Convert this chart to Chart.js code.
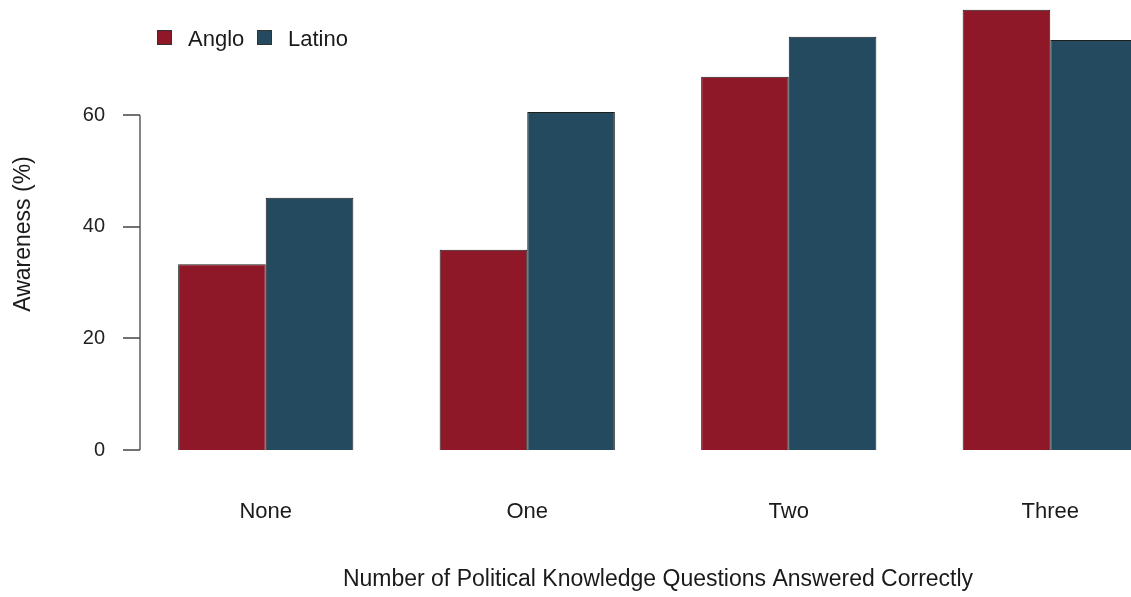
<!DOCTYPE html>
<html>
<head>
<meta charset="utf-8">
<script src="https://cdn.jsdelivr.net/npm/chart.js@4"></script>
<style>
    html, body { margin: 0; padding: 0; background: #fff; overflow: hidden; }
    #wrap { position: relative; width: 1181px; height: 597px; }
</style>
</head>
<body>
<div id="wrap"><canvas id="awarenessChart"></canvas></div>
<script>
// Datos
const categorias = ['None', 'One', 'Two', 'Three'];
const serieAnglo = [33.3, 35.9, 66.9, 78.9];
const serieLatino = [45.2, 60.6, 74.1, 73.5];
const ticksY = [0, 20, 40, 60];

const FONT = '"Liberation Sans", Arial, Helvetica, sans-serif';
const ROJO = '#8e1728';
const AZUL = '#234a5e';

// Eje Y estilo R: linea solo entre el primer y ultimo tick
const ejeR = {
    id: 'ejeR',
    afterDraw(chart) {
        const ctx = chart.ctx;
        const y = chart.scales.y;
        const x0 = chart.chartArea.left + 5;
        ctx.save();
        ctx.strokeStyle = '#444';
        ctx.lineWidth = 1.3;
        ctx.beginPath();
        ctx.moveTo(x0, y.getPixelForValue(ticksY[0]));
        ctx.lineTo(x0, y.getPixelForValue(ticksY[ticksY.length - 1]));
        ticksY.forEach(v => {
            const py = Math.round(y.getPixelForValue(v));
            ctx.moveTo(x0 - 17, py);
            ctx.lineTo(x0, py);
        });
        ctx.stroke();
        ctx.restore();
    }
};

// Leyenda dibujada arriba a la izquierda
const leyenda = {
    id: 'leyenda',
    afterDraw(chart) {
        const ctx = chart.ctx;
        const items = [{ x: 157 }, { x: 257 }];
        ctx.save();
        ctx.font = '22px ' + FONT;
        ctx.textBaseline = 'middle';
        chart.data.datasets.forEach((ds, i) => {
            const bx = items[i].x;
            ctx.fillStyle = ds.backgroundColor;
            ctx.fillRect(bx, 30, 15, 15);
            ctx.strokeStyle = '#333';
            ctx.lineWidth = 1;
            ctx.strokeRect(bx + 0.5, 30.5, 14, 14);
            ctx.fillStyle = '#1a1a1a';
            ctx.fillText(ds.label, bx + 31, 40);
        });
        ctx.restore();
    }
};

new Chart(document.getElementById('awarenessChart'), {
    type: 'bar',
    data: {
        labels: categorias,
        datasets: [
            { label: 'Anglo', data: serieAnglo, backgroundColor: ROJO, borderColor: '#1e1e1e', borderWidth: 1 },
            { label: 'Latino', data: serieLatino, backgroundColor: AZUL, borderColor: '#1e1e1e', borderWidth: 1 }
        ]
    },
    options: {
        responsive: true,
        maintainAspectRatio: false,
        animation: false,
        layout: { padding: 0 },
        datasets: { bar: { categoryPercentage: 0.67, barPercentage: 1.0 } },
        plugins: {
            legend: { display: false },
            tooltip: { enabled: false }
        },
        scales: {
            x: {
                grid: { display: false, drawTicks: false },
                border: { display: false },
                ticks: { color: '#1a1a1a', font: { family: FONT, size: 22 }, padding: 31, maxRotation: 0 },
                title: {
                    display: true,
                    text: 'Number of Political Knowledge Questions Answered Correctly',
                    color: '#1a1a1a',
                    font: { family: FONT, size: 23 },
                    padding: { top: 4, bottom: 4 }
                },
                afterFit(scale) {
                    scale.height = 129;
                    scale.paddingLeft = 0;
                    scale.paddingRight = 0;
                }
            },
            y: {
                min: -3.227,
                max: 80.67,
                grid: { display: false, drawTicks: false },
                border: { display: false },
                afterBuildTicks(scale) { scale.ticks = ticksY.map(v => ({ value: v })); },
                ticks: { color: '#222', font: { family: FONT, size: 20 }, padding: 30 },
                title: {
                    display: true,
                    text: 'Awareness (%)',
                    color: '#1a1a1a',
                    font: { family: FONT, size: 23 },
                    padding: { top: 10, bottom: 0 }
                },
                afterFit(scale) {
                    scale.width = 135;
                    scale.paddingTop = 0;
                    scale.paddingBottom = 0;
                }
            }
        }
    },
    plugins: [ejeR, leyenda]
});
</script>
</body>
</html>
